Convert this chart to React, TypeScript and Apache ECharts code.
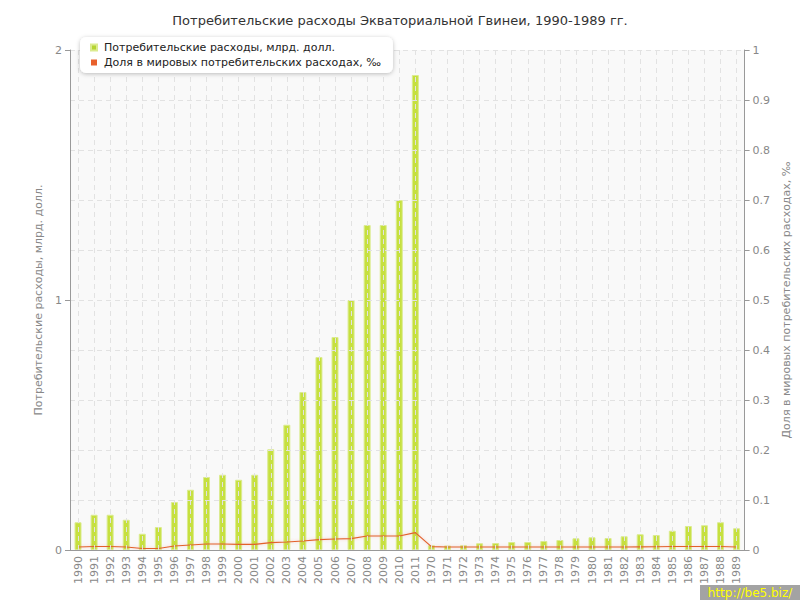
import React, { useEffect, useRef } from "react";
import * as echarts from "echarts";

const title = "Потребительские расходы Экваториальной Гвинеи, 1990-1989 гг.";
const seriesNameBars = "Потребительские расходы, млрд. долл.";
const seriesNameLine = "Доля в мировых потребительских расходах, ‰";
const leftAxisName = "Потребительские расходы, млрд. долл.";
const rightAxisName = "Доля в мировых потребительских расходах, ‰";

const categories = [
  "1990", "1991", "1992", "1993", "1994", "1995", "1996", "1997", "1998", "1999",
  "2000", "2001", "2002", "2003", "2004", "2005", "2006", "2007", "2008", "2009",
  "2010", "2011", "1970", "1971", "1972", "1973", "1974", "1975", "1976", "1977",
  "1978", "1979", "1980", "1981", "1982", "1983", "1984", "1985", "1986", "1987",
  "1988", "1989",
];

const spending = [
  0.111, 0.141, 0.141, 0.121, 0.065, 0.092, 0.192, 0.241, 0.292, 0.301,
  0.281, 0.301, 0.403, 0.501, 0.632, 0.772, 0.852, 1.0, 1.30, 1.30,
  1.40, 1.90, 0.019, 0.018, 0.019, 0.027, 0.028, 0.032, 0.032, 0.036,
  0.04, 0.047, 0.051, 0.048, 0.055, 0.063, 0.06, 0.077, 0.096, 0.099,
  0.111, 0.087,
];

const share = [
  0.006, 0.007, 0.007, 0.006, 0.003, 0.003, 0.008, 0.01, 0.012, 0.012,
  0.0113, 0.0113, 0.0147, 0.016, 0.018, 0.0207, 0.022, 0.0227, 0.028, 0.028,
  0.028, 0.0347, 0.0067, 0.006, 0.006, 0.006, 0.006, 0.006, 0.006, 0.006,
  0.006, 0.006, 0.006, 0.006, 0.006, 0.0063, 0.0065, 0.007, 0.007, 0.007,
  0.007, 0.006,
];

const leftTicks = [0, 1, 2];
const rightTicks = [0, 0.1, 0.2, 0.3, 0.4, 0.5, 0.6, 0.7, 0.8, 0.9, 1];

const FONT = "'DejaVu Sans', Verdana, sans-serif";

export default function App() {
  const ref = useRef<HTMLDivElement>(null);
  useEffect(() => {
    if (!ref.current) return;
    const chart = echarts.init(ref.current, null, { renderer: "svg" });
    const gridLine = { show: true, lineStyle: { color: "#e2e2e2", type: [5, 4] as any, width: 1 } };
    chart.setOption({
      animation: false,
      backgroundColor: "#ffffff",
      textStyle: { fontFamily: FONT },
      title: {
        text: title,
        left: "center",
        top: 9,
        textStyle: { fontFamily: FONT, fontSize: 13, fontWeight: "normal", color: "#333" },
      },
      legend: {
        orient: "vertical",
        left: 80,
        top: 37,
        z: 20,
        itemWidth: 6,
        itemHeight: 6,
        itemGap: 4,
        icon: "rect",
        padding: [5, 12, 5, 10],
        backgroundColor: "#ffffff",
        borderRadius: 6,
        shadowColor: "rgba(0,0,0,0.25)",
        shadowBlur: 4,
        shadowOffsetY: 1,
        textStyle: { fontFamily: FONT, fontSize: 11, color: "#222", padding: [0, 0, 0, 2] },
        data: [
          { name: seriesNameBars, itemStyle: { color: "#b5d431" } },
          { name: seriesNameLine, itemStyle: { color: "#e8602c" } },
        ],
      },
      grid: { left: 70, right: 50, top: 50, bottom: 50, show: true, backgroundColor: "#f9f9f9", borderWidth: 0 },
      xAxis: {
        type: "category",
        data: categories,
        boundaryGap: true,
        z: 5,
        axisLine: { lineStyle: { color: "#999" } },
        axisTick: { alignWithLabel: true, interval: 0, length: 5, lineStyle: { color: "#999" } },
        splitLine: { ...gridLine, alignWithLabel: true, interval: 0 } as any,
        axisLabel: {
          interval: 0,
          rotate: 90,
          margin: 6,
          color: "#888",
          fontSize: 11,
          fontFamily: FONT,
        },
      },
      yAxis: [
        {
          type: "value",
          min: 0,
          max: 2,
          interval: 1,
          z: 5,
          name: leftAxisName,
          nameLocation: "middle",
          nameGap: 22,
          nameTextStyle: { color: "#888", fontSize: 11, fontFamily: FONT },
          axisLine: { show: true, lineStyle: { color: "#999" } },
          axisTick: { show: true, length: 5, lineStyle: { color: "#999" } },
          axisLabel: {
            color: "#888",
            fontSize: 11,
            margin: 8,
            formatter: (v: number) => (leftTicks.includes(v) ? String(v) : ""),
          },
          splitLine: gridLine,
          minorTick: { show: false, splitNumber: 5 },
          minorSplitLine: { show: true, lineStyle: { color: "#e2e2e2", type: [5, 4] as any, width: 1 } },
        },
        {
          type: "value",
          min: 0,
          max: 1,
          interval: 0.1,
          position: "right",
          z: 5,
          name: rightAxisName,
          nameLocation: "middle",
          nameGap: 28,
          nameTextStyle: { color: "#888", fontSize: 11, fontFamily: FONT },
          axisLine: { show: true, lineStyle: { color: "#999" } },
          axisTick: { show: true, length: 5, lineStyle: { color: "#999" } },
          axisLabel: {
            color: "#888",
            fontSize: 11,
            margin: 8,
            formatter: (v: number) => {
              const r = Math.round(v * 10) / 10;
              return rightTicks.includes(r) ? String(r) : "";
            },
          },
          splitLine: { show: false },
        },
      ],
      series: [
        {
          name: seriesNameBars,
          type: "bar",
          yAxisIndex: 0,
          barWidth: 7,
          data: spending,
          itemStyle: { color: "#c6e03f", borderColor: "#dbeb8f", borderWidth: 1 },
          z: 2,
        },
        {
          name: seriesNameLine,
          type: "line",
          yAxisIndex: 1,
          data: share,
          symbol: "none",
          lineStyle: { color: "#e2622c", width: 1.2, shadowColor: "rgba(230,110,80,0.35)", shadowBlur: 3 },
          itemStyle: { color: "#e8602c" },
          z: 3,
        },
      ],
      graphic: [
        {
          type: "group",
          right: 0,
          bottom: 0,
          z: 30,
          children: [
            { type: "rect", shape: { x: 0, y: 0, width: 100, height: 15 }, style: { fill: "#a3a3a3" } },
            {
              type: "text",
              x: 50,
              y: 8,
              style: {
                text: "http://be5.biz/",
                fill: "#ffff00",
                font: "12px 'DejaVu Sans', sans-serif",
                textAlign: "center",
                textVerticalAlign: "middle",
              },
            },
          ],
        },
      ],
    });
    return () => chart.dispose();
  }, []);
  return <div ref={ref} style={{ width: 800, height: 600, position: "absolute", left: 0, top: 0 }} />;
}
